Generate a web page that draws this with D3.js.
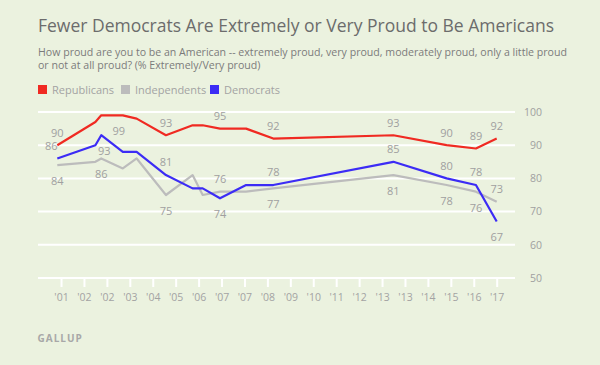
<!DOCTYPE html>
<html>
<head>
<meta charset="utf-8">
<script src="https://cdn.jsdelivr.net/npm/d3@7"></script>
<style>
  body { margin: 0; background: #ebf2df; }
  svg { display: block; font-family: "Open Sans", sans-serif; }
</style>
</head>
<body>
<svg></svg>
<script>
// survey dates as decimal years
const years = [2001.0, 2002.43, 2002.65, 2003.46, 2003.98, 2005.08, 2006.08, 2006.46,
  2007.11, 2008.09, 2009.11, 2013.62, 2015.62, 2016.72, 2017.5];
const republicans = [90, 97, 99, 99, 98, 93, 96, 96, 95, 95, 92, 93, 90, 89, 92];
const independents = [84, 85, 86, 83, 86, 75, 81, 75, 76, 76, 77, 81, 78, 76, 73];
const democrats = [86, 90, 93, 88, 88, 81, 77, 77, 74, 78, 78, 85, 80, 78, 67];
const tickLabels = ["'01", "'02", "'02", "'03", "'04", "'05", "'06", "'07", "'07", "'08",
  "'09", "'10", "'11", "'12", "'13", "'13", "'14", "'15", "'16", "'17"];
const tickSpan = [2001.14, 2017.5];
const yTicks = [50, 60, 70, 80, 90, 100];
const seriesNames = ["Republicans", "Independents", "Democrats"];

const colors = { Republicans: "#f02a22", Independents: "#bcbcbc", Democrats: "#3c2cf5" };

// which points carry a value label, and where ("a" above, "b" below, optional dx)
const labelSpots = {
  Republicans: [[0, "a"], [3, "b", -4], [5, "a"], [8, "a"], [10, "a"], [11, "a"], [12, "a"], [13, "a"], [14, "a"]],
  Independents: [[0, "b"], [2, "b"], [5, "b"], [8, "a"], [10, "b"], [11, "b"], [12, "b"], [13, "b"], [14, "a"]],
  Democrats: [[0, "a", -6], [2, "b", 3], [5, "a"], [8, "b"], [10, "a"], [11, "a"], [12, "a"], [13, "a"], [14, "b"]]
};

const width = 600, height = 365;
const svg = d3.select("svg").attr("width", width).attr("height", height);

svg.append("rect").attr("width", width).attr("height", height).attr("fill", "#ebf2df");

svg.append("text").text("Fewer Democrats Are Extremely or Very Proud to Be Americans")
  .attr("x", 38).attr("y", 31.5).attr("fill", "#6c6c6c").attr("font-size", 17.5);

const sub = svg.append("text").attr("fill", "#7b7b7b").attr("font-size", 10.6);
sub.append("tspan").attr("x", 38).attr("y", 55.5)
  .text("How proud are you to be an American -- extremely proud, very proud, moderately proud, only a little proud");
sub.append("tspan").attr("x", 38).attr("y", 69)
  .text("or not at all proud? (% Extremely/Very proud)");

// legend
const legendX = [38, 121, 210];
const leg = svg.append("g").selectAll("g").data(seriesNames).enter().append("g")
  .attr("transform", (d, i) => `translate(${legendX[i]}, 85)`);
leg.append("rect").attr("width", 9).attr("height", 9).attr("fill", d => colors[d]);
leg.append("text").text(d => d).attr("x", 14).attr("y", 8.5)
  .attr("fill", "#a3a3a3").attr("font-size", 11);

const x = d3.scaleLinear().domain([2001.0, 2017.5]).range([57.3, 496.7]);
const y = d3.scaleLinear().domain([50, 100]).range([278, 112]);

// gridlines + right axis
const grid = svg.append("g");
grid.selectAll("line").data(yTicks).enter().append("line")
  .attr("x1", 38).attr("x2", 515).attr("y1", d => y(d)).attr("y2", d => y(d))
  .attr("stroke", "#fff").attr("stroke-width", 2);

const yAxis = svg.append("g").attr("transform", "translate(542,0)")
  .call(d3.axisRight(y).tickValues(yTicks).tickSize(0).tickPadding(0));
yAxis.select(".domain").remove();
yAxis.selectAll("text").attr("text-anchor", "end").attr("fill", "#a0a0a0")
  .attr("font-size", 10.5).attr("font-family", "Open Sans, sans-serif");

// bottom ticks
const xTick = d3.scalePoint().domain(d3.range(tickLabels.length)).range([x(tickSpan[0]), x(tickSpan[1])]);
const xAxis = svg.append("g").attr("transform", `translate(0, ${y(50)})`)
  .call(d3.axisBottom(xTick).tickSize(9).tickPadding(7).tickFormat(i => tickLabels[i]));
xAxis.select(".domain").remove();
xAxis.selectAll("line").attr("stroke", "#fff").attr("stroke-width", 2);
xAxis.selectAll("text").attr("fill", "#a3a3a3").attr("font-size", 10.5)
  .attr("font-family", "Open Sans, sans-serif");

// lines
const seriesData = {
  Republicans: republicans,
  Independents: independents,
  Democrats: democrats
};
const line = d3.line().x((d, i) => x(years[i])).y(d => y(d));
["Independents", "Republicans", "Democrats"].forEach(name => {
  svg.append("path").datum(seriesData[name])
    .attr("d", line).attr("fill", "none")
    .attr("stroke", colors[name]).attr("stroke-width", 2.2)
    .attr("stroke-linejoin", "round");
});

// value labels
seriesNames.forEach(name => {
  svg.append("g").selectAll("text").data(labelSpots[name]).enter().append("text")
    .attr("x", d => x(years[d[0]]) + (d[2] || 0))
    .attr("y", d => y(seriesData[name][d[0]]) + (d[1] === "a" ? -12.5 : 16))
    .attr("dy", "0.35em").attr("text-anchor", "middle")
    .attr("fill", "#a0a0a0").attr("font-size", 11)
    .text(d => seriesData[name][d[0]]);
});

svg.append("text").text("GALLUP").attr("x", 37.5).attr("y", 342)
  .attr("fill", "#a8a8a8").attr("font-size", 10).attr("font-weight", "bold")
  .attr("letter-spacing", 1);
</script>
</body>
</html>
